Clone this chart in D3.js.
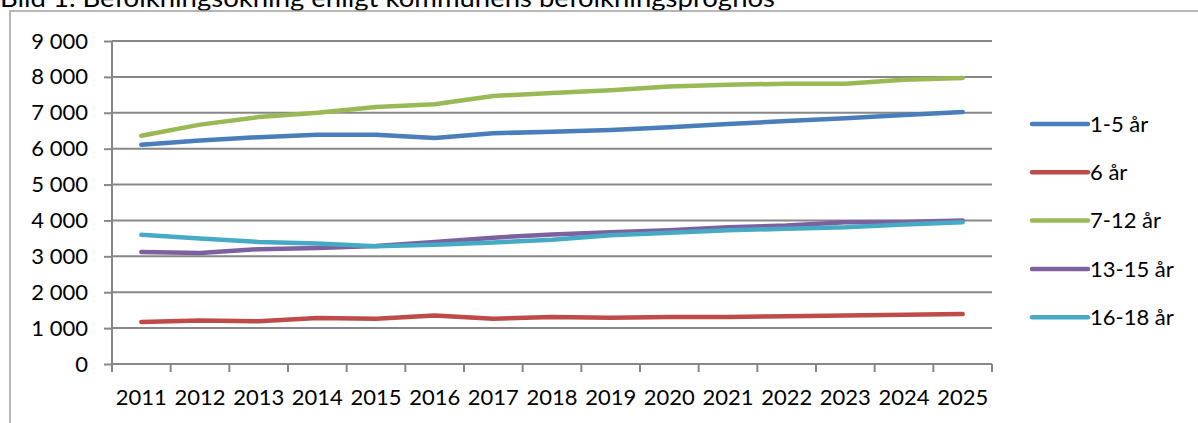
<!DOCTYPE html>
<html><head><meta charset="utf-8">
<script src="https://cdn.jsdelivr.net/npm/d3@7"></script>
<style>body{margin:0;background:#fff;}svg{display:block;font-family:Lato,"Open Sans",sans-serif;}</style>
</head><body>
<svg id="c" width="1198" height="423"></svg>
<script>
const title = "Bild 1. Befolkningsökning enligt kommunens befolkningsprognos";
const years = ["2011","2012","2013","2014","2015","2016","2017","2018","2019","2020","2021","2022","2023","2024","2025"];
const yTicks = [0,1000,2000,3000,4000,5000,6000,7000,8000,9000];
const seriesNames = ["1-5 år","6 år","7-12 år","13-15 år","16-18 år"];
const colors = ["#4A7EBB","#BE4B48","#98B954","#7D60A0","#46AAC5"];
const age1_5   = [6110,6230,6320,6390,6390,6300,6430,6470,6520,6600,6690,6770,6850,6940,7020];
const age6     = [1170,1210,1190,1280,1260,1350,1260,1310,1290,1310,1310,1330,1350,1370,1390];
const age7_12  = [6360,6670,6880,7000,7160,7240,7470,7550,7630,7730,7780,7810,7810,7920,7970];
const age13_15 = [3120,3090,3200,3230,3290,3400,3520,3610,3670,3730,3810,3860,3950,3960,4000];
const age16_18 = [3600,3500,3400,3355,3280,3325,3385,3460,3590,3655,3725,3770,3810,3890,3950];
const seriesValues = [age1_5, age6, age7_12, age13_15, age16_18];

(function(){
const svg = d3.select("#c");
const L = 112, R = 992, T = 41, B = 364;
const x = d3.scaleBand().domain(years).range([L, R]);
const y = d3.scaleLinear().domain([0, 9000]).range([B, T]);
const fmt = v => d3.format(",")(v).replace(/,/g, " ");

svg.append("text").attr("x", 0).attr("y", 7).attr("font-size", 25)
  .attr("textLength", 775).attr("lengthAdjust", "spacingAndGlyphs").attr("fill", "#000").text(title);
svg.append("rect").attr("x", 10).attr("y", 11).attr("width", 1300).attr("height", 500)
  .attr("fill", "none").attr("stroke", "#a0a0a0").attr("stroke-width", 1.5);

const grid = "#878787";
const yAxis = d3.axisLeft(y).tickValues(yTicks).tickFormat(fmt).tickSize(8).tickPadding(16);
const gy = svg.append("g").attr("transform", `translate(${L},0)`).call(yAxis);
gy.selectAll(".tick line").attr("stroke", grid).attr("stroke-width", 2);
gy.select(".domain").attr("stroke", grid).attr("stroke-width", 2).attr("d", `M0,${T}V${B}`);
gy.selectAll("text").attr("font-size", 22).attr("fill", "#000").attr("font-family", "Lato");
svg.append("g").selectAll("line").data(yTicks.filter(d => d > 0)).join("line")
  .attr("x1", L).attr("x2", R).attr("y1", d => y(d)).attr("y2", d => y(d))
  .attr("stroke", grid).attr("stroke-width", 2);

const xAxis = d3.axisBottom(x).tickSize(0).tickPadding(0);
const gx = svg.append("g").attr("transform", `translate(0,${B})`).call(xAxis);
gx.select(".domain").attr("stroke", grid).attr("stroke-width", 2).attr("d", `M${L},0H${R}`);
gx.selectAll("text").attr("font-size", 22).attr("fill", "#000").attr("font-family", "Lato").attr("dy", 0).attr("y", 41);
const bounds = years.map((d, i) => L + i * x.step()).concat([R]);
svg.append("g").selectAll("line").data(bounds).join("line")
  .attr("x1", d => d).attr("x2", d => d).attr("y1", B).attr("y2", B + 8)
  .attr("stroke", grid).attr("stroke-width", 2);

const line = d3.line().x((d, i) => x(years[i]) + x.bandwidth() / 2).y(d => y(d));
svg.append("g").selectAll("path").data(seriesValues).join("path")
  .attr("d", line).attr("fill", "none").attr("stroke", (d, i) => colors[i])
  .attr("stroke-width", 4.5).attr("stroke-linecap", "round").attr("stroke-linejoin", "round");

const lg = svg.append("g").selectAll("g").data(seriesNames).join("g")
  .attr("transform", (d, i) => `translate(1032,${124 + i * 48.3})`);
lg.append("line").attr("x1", 0).attr("x2", 56).attr("stroke", (d, i) => colors[i])
  .attr("stroke-width", 4.5).attr("stroke-linecap", "round");
lg.append("text").attr("x", 58).attr("dy", "0.35em").attr("font-size", 22).attr("fill", "#000").text(d => d);
})();
</script>
</body></html>
